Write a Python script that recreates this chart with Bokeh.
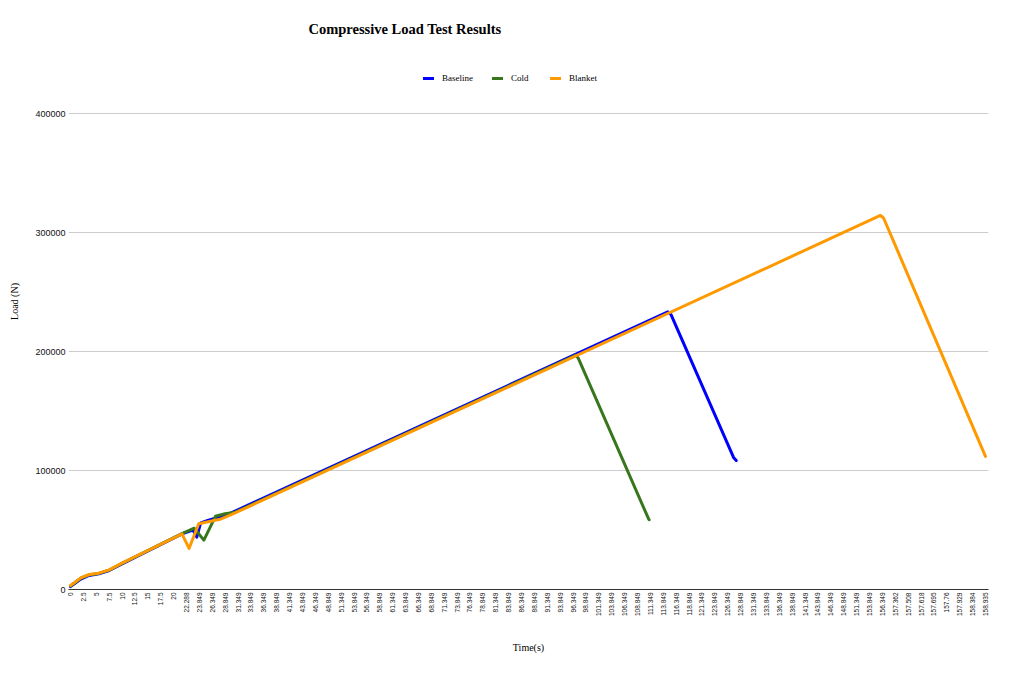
import math
from bokeh.plotting import figure
from bokeh.models import (Range1d, FixedTicker, NumeralTickFormatter, Legend,
                          LegendItem, Label)
from bokeh.embed import file_html
from bokeh.resources import INLINE

# Category labels of the time axis (as shown by the sheet)
time_labels = [
    "0", "2.5", "5", "7.5", "10", "12.5", "15", "17.5", "20", "22.288",
    "23.849", "26.349", "28.849", "31.349", "33.849", "36.349", "38.849",
    "41.349", "43.849", "46.349", "48.849", "51.349", "53.849", "56.349",
    "58.849", "61.349", "63.849", "66.349", "68.849", "71.349", "73.849",
    "76.349", "78.849", "81.349", "83.849", "86.349", "88.849", "91.349",
    "93.849", "96.349", "98.849", "101.349", "103.849", "106.349", "108.849",
    "111.349", "113.849", "116.349", "118.849", "121.349", "123.849",
    "126.349", "128.849", "131.349", "133.849", "136.349", "138.849",
    "141.349", "143.849", "146.349", "148.849", "151.349", "153.849",
    "156.349", "157.362", "157.508", "157.618", "157.695", "157.76",
    "157.929", "158.384", "158.935",
]

# Row positions (in category units) and loads (N)
baseline_row = [0, 0.8, 1.45, 2.2, 3.0, 4.0, 8.65, 9.5, 9.8, 10.1, 10.6,
                12.3, 46.35, 46.6, 51.45, 51.66]
baseline_load = [2400, 8800, 11800, 13200, 16000, 21600, 46800, 50000, 44000,
                 56000, 57800, 63500, 233300, 231000, 111000, 108400]

cold_row = [0, 0.8, 1.45, 2.2, 3.0, 4.0, 8.65, 9.6, 10.35, 11.25, 12.0, 12.8,
            39.2, 39.4, 44.85, 44.9]
cold_load = [3000, 9500, 12300, 13500, 16300, 21900, 47000, 51500, 41500,
             61500, 63600, 65000, 196800, 194500, 59500, 58600]

blanket_row = [0, 0.8, 1.45, 2.2, 3.0, 4.0, 8.65, 9.2, 9.95, 11.6, 12.3,
               62.85, 63.1, 71.0]
blanket_load = [3400, 9800, 12600, 13700, 16500, 22100, 46800, 34500, 55200,
                59000, 62000, 314300, 312000, 111800]

y_ticks = [0, 100000, 200000, 300000, 400000]

SERIF = "Liberation Serif"
SANS = "Liberation Sans"

p = figure(frame_width=920, frame_height=576,
           min_border_left=68, min_border_right=18,
           min_border_top=13, min_border_bottom=83,
           x_range=Range1d(-0.155, 71.235), y_range=Range1d(0, 484034),
           output_backend="svg", toolbar_location=None,
           x_axis_label="Time(s)", y_axis_label="Load (N)")

p.outline_line_color = None
p.background_fill_color = "white"
p.border_fill_color = "white"

r_b = p.line(baseline_row, baseline_load, line_color="#0000ff", line_width=3,
             line_join="round", line_cap="round")
r_c = p.line(cold_row, cold_load, line_color="#38761d", line_width=3,
             line_join="round", line_cap="round")
r_k = p.line(blanket_row, blanket_load, line_color="#ff9900", line_width=3,
             line_join="round", line_cap="round")

# x axis
xa = p.xaxis[0]
xa.ticker = FixedTicker(ticks=list(range(len(time_labels))))
xa.major_label_overrides = {i: t for i, t in enumerate(time_labels)}
xa.major_label_orientation = math.pi / 2
xa.major_label_text_font = SANS
xa.major_label_text_font_size = "6.5px"
xa.major_label_text_color = "#111111"
xa.major_label_standoff = 3
xa.major_tick_out = 0
xa.major_tick_in = 0
xa.minor_tick_out = 0
xa.major_tick_line_color = None
xa.minor_tick_line_color = None
xa.axis_line_color = "#333333"
xa.axis_label_text_font = SERIF
xa.axis_label_text_font_size = "10px"
xa.axis_label_text_font_style = "normal"
xa.axis_label_text_color = "#000000"
xa.axis_label_standoff = 23

# y axis
ya = p.yaxis[0]
ya.ticker = FixedTicker(ticks=y_ticks)
ya.formatter = NumeralTickFormatter(format="0")
ya.major_label_text_font = SANS
ya.major_label_text_font_size = "9px"
ya.major_label_text_color = "#111111"
ya.major_label_standoff = 3
ya.major_tick_out = 0
ya.major_tick_in = 0
ya.minor_tick_out = 0
ya.major_tick_line_color = None
ya.minor_tick_line_color = None
ya.axis_line_color = None
ya.axis_label_text_font = SERIF
ya.axis_label_text_font_size = "10px"
ya.axis_label_text_font_style = "normal"
ya.axis_label_text_color = "#000000"
ya.axis_label_standoff = 12

p.xgrid.visible = False
p.ygrid.grid_line_color = "#cccccc"
p.ygrid.grid_line_width = 1

legend = Legend(items=[LegendItem(label="Baseline", renderers=[r_b]),
                       LegendItem(label="Cold", renderers=[r_c]),
                       LegendItem(label="Blanket", renderers=[r_k])],
                orientation="horizontal", location=(355, 505),
                padding=0, margin=0, border_line_color=None,
                background_fill_alpha=0,
                label_text_font=SERIF, label_text_font_size="9px",
                label_text_color="#000000",
                glyph_width=11, glyph_height=12, label_height=12,
                label_standoff=8, spacing=19)
p.add_layout(legend)

title = Label(x=240, y=561, x_units="screen", y_units="screen",
              text="Compressive Load Test Results", text_font=SERIF,
              text_font_style="bold", text_font_size="14.5px",
              text_baseline="middle", text_color="#000000")
p.add_layout(title)

open("out.html", "w").write(file_html(p, INLINE))
